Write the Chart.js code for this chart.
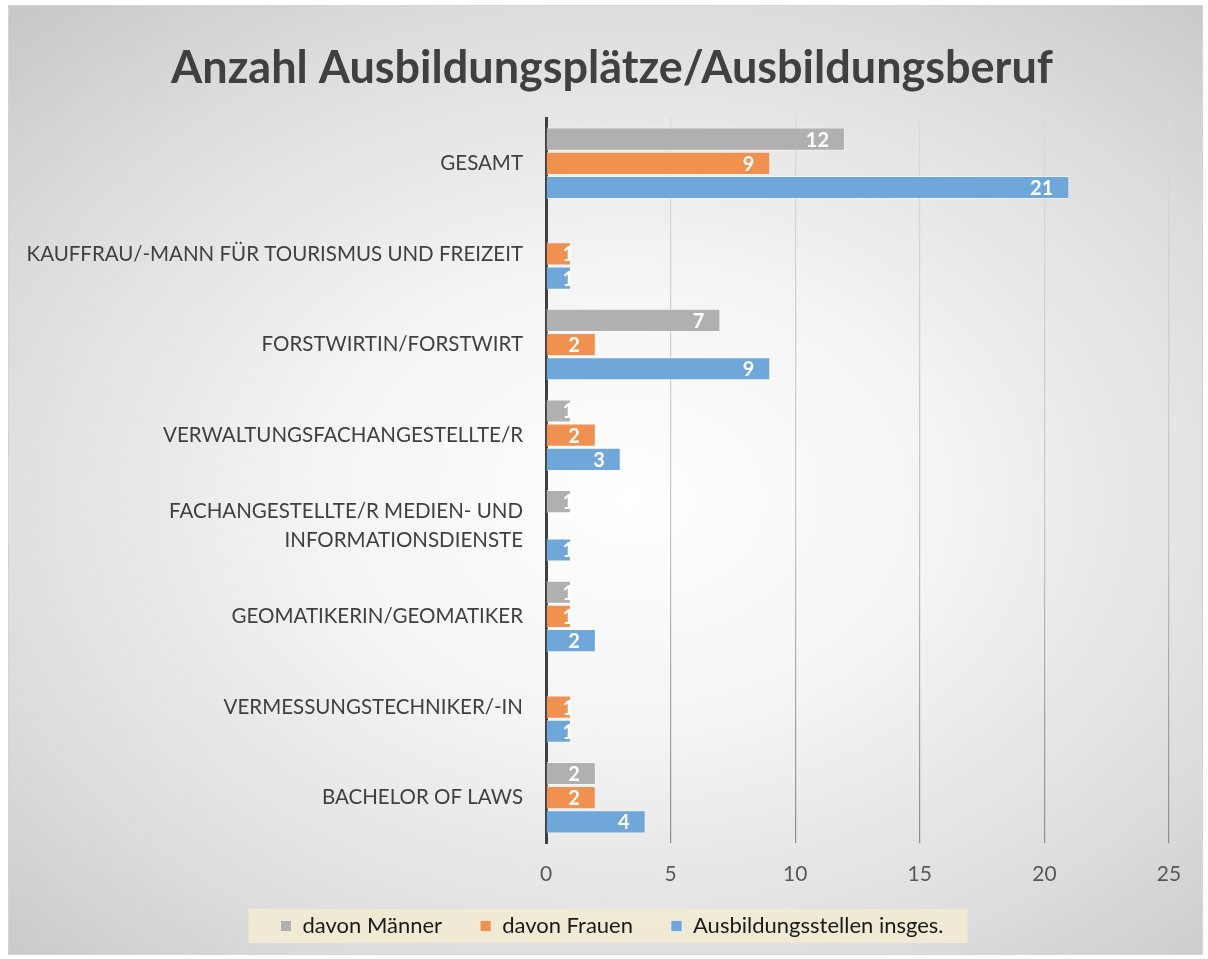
<!DOCTYPE html>
<html>
<head>
<meta charset="utf-8">
<script src="https://cdn.jsdelivr.net/npm/chart.js@4"></script>
<style>
  body { margin: 0; background: #fff; }
  #box {
    position: absolute; left: 8px; top: 5px; width: 1195px; height: 950px;
    border: 1px solid #d4d4d4; box-sizing: border-box;
    background: radial-gradient(ellipse 75% 70% at 52% 52%, #ffffff 0%, #f4f4f4 35%, #dcdcdc 75%, #c8c8c8 100%);
  }
</style>
</head>
<body>
<div id="box"><canvas id="myBarChart"></canvas></div>
<script>
const labels = [
  "GESAMT",
  "KAUFFRAU/-MANN FÜR TOURISMUS UND FREIZEIT",
  "FORSTWIRTIN/FORSTWIRT",
  "VERWALTUNGSFACHANGESTELLTE/R",
  ["FACHANGESTELLTE/R MEDIEN- UND", "INFORMATIONSDIENSTE"],
  "GEOMATIKERIN/GEOMATIKER",
  "VERMESSUNGSTECHNIKER/-IN",
  "BACHELOR OF LAWS"
];
const maenner = [12, null, 7, 1, 1, 1, null, 2];
const frauen = [9, 1, 2, 2, null, 1, 1, 2];
const gesamt = [21, 1, 9, 3, 1, 2, 1, 4];
const xTicks = [0, 5, 10, 15, 20, 25];

const font = "Lato";

// white value labels at the inner end of each bar
const valueLabels = {
  id: "valueLabels",
  afterDatasetsDraw(chart) {
    const ctx = chart.ctx;
    ctx.save();
    ctx.font = "bold 20px " + font;
    ctx.fillStyle = "#ffffff";
    ctx.textBaseline = "middle";
    ctx.textAlign = "left";
    chart.data.datasets.forEach((ds, i) => {
      chart.getDatasetMeta(i).data.forEach((bar, j) => {
        const v = ds.data[j];
        if (v == null) return;
        const p = bar.getProps(["x", "y", "base", "height"], true);
        const txt = String(v);
        const w = ctx.measureText(txt).width;
        let right = Math.max(p.x - 16, p.base + 16 + w);
        ctx.save();
        ctx.beginPath();
        ctx.rect(p.base, p.y - p.height / 2, p.x - p.base, p.height);
        ctx.clip();
        ctx.fillText(txt, right - w, p.y + 1);
        ctx.restore();
      });
    });
    ctx.restore();
  }
};

// beige band behind the legend items
const legendBand = {
  id: "legendBand",
  beforeDraw(chart) {
    const lg = chart.legend;
    if (!lg || !lg.legendHitBoxes.length) return;
    const hb = lg.legendHitBoxes;
    const left = hb[0].left - 32;
    const last = hb[hb.length - 1];
    const right = last.left + last.width + 24;
    const cy = hb[0].top + hb[0].height / 2;
    const ctx = chart.ctx;
    ctx.save();
    ctx.fillStyle = "rgba(242,234,210,0.9)";
    ctx.fillRect(left, cy - 17, right - left, 34);
    ctx.restore();
  }
};

// let the axis labels run outside the tight scale boxes (they get clipped otherwise)
const looseLabels = {
  id: "looseLabels",
  afterLayout(chart) {
    chart.scales.x.bottom = chart.height;
    chart.scales.y.left = 0;
  }
};

// gridlines fade from light at the top to darker grey at the bottom
let gridGrad = null;
function gridColor(c) {
  const area = c.chart.chartArea;
  if (!area) return "#c8c8c8";
  if (!gridGrad || gridGrad._top !== area.top || gridGrad._bottom !== area.bottom) {
    const g = c.chart.ctx.createLinearGradient(0, area.top, 0, area.bottom);
    g.addColorStop(0, "#d9d9d9");
    g.addColorStop(0.55, "#c6c6c6");
    g.addColorStop(1, "#8c8c8c");
    gridGrad = { g: g, _top: area.top, _bottom: area.bottom };
  }
  return gridGrad.g;
}

const ctx1 = document.getElementById("myBarChart");

new Chart(ctx1, {
  type: "bar",
  data: {
    labels: labels,
    datasets: [
      {
        label: "davon Männer",
        data: maenner,
        backgroundColor: "#b0b0b0",
        borderColor: "rgba(255,255,255,0.55)",
        borderWidth: 1,
      },
      {
        label: "davon Frauen",
        data: frauen,
        backgroundColor: "#f0914f",
        borderColor: "rgba(255,255,255,0.55)",
        borderWidth: 1,
      },
      {
        label: "Ausbildungsstellen insges.",
        data: gesamt,
        backgroundColor: "#70a7da",
        borderColor: "rgba(255,255,255,0.55)",
        borderWidth: 1,
      },
    ],
  },
  options: {
    indexAxis: "y",
    responsive: true,
    maintainAspectRatio: false,
    animation: false,
    categoryPercentage: 0.8,
    barPercentage: 0.96,
    layout: { padding: { left: 46, right: 33, top: 0, bottom: 7 } },
    plugins: {
      title: {
        display: true,
        text: "Anzahl Ausbildungsplätze/Ausbildungsberuf",
        color: "#404040",
        font: { family: font, size: 45, weight: "bold" },
        padding: { top: 35, bottom: 23 },
      },
      legend: {
        position: "bottom",
        labels: {
          color: "#1a1a1a",
          font: { family: font, size: 22 },
          boxWidth: 11,
          boxHeight: 11,
          padding: 38,
        },
      },
      tooltip: { enabled: false },
    },
    scales: {
      x: {
        min: 0,
        max: 25,
        afterBuildTicks(scale) {
          scale.ticks = xTicks.map((v) => ({ value: v }));
        },
        afterFit(scale) {
          scale.height = 34;
        },
        grid: { color: gridColor, lineWidth: 1.2, drawTicks: false },
        border: { display: false },
        ticks: {
          color: "#595959",
          font: { family: font, size: 21 },
          padding: 19,
        },
      },
      y: {
        grid: { display: false },
        border: { color: "#404040", width: 3 },
        afterFit(scale) {
          scale.width = 491;
        },
        ticks: {
          color: "#404040",
          font: { family: font, size: 20.5, lineHeight: 1.45 },
          padding: 15,
        },
      },
    },
  },
  plugins: [valueLabels, legendBand, looseLabels],
});
</script>
</body>
</html>
